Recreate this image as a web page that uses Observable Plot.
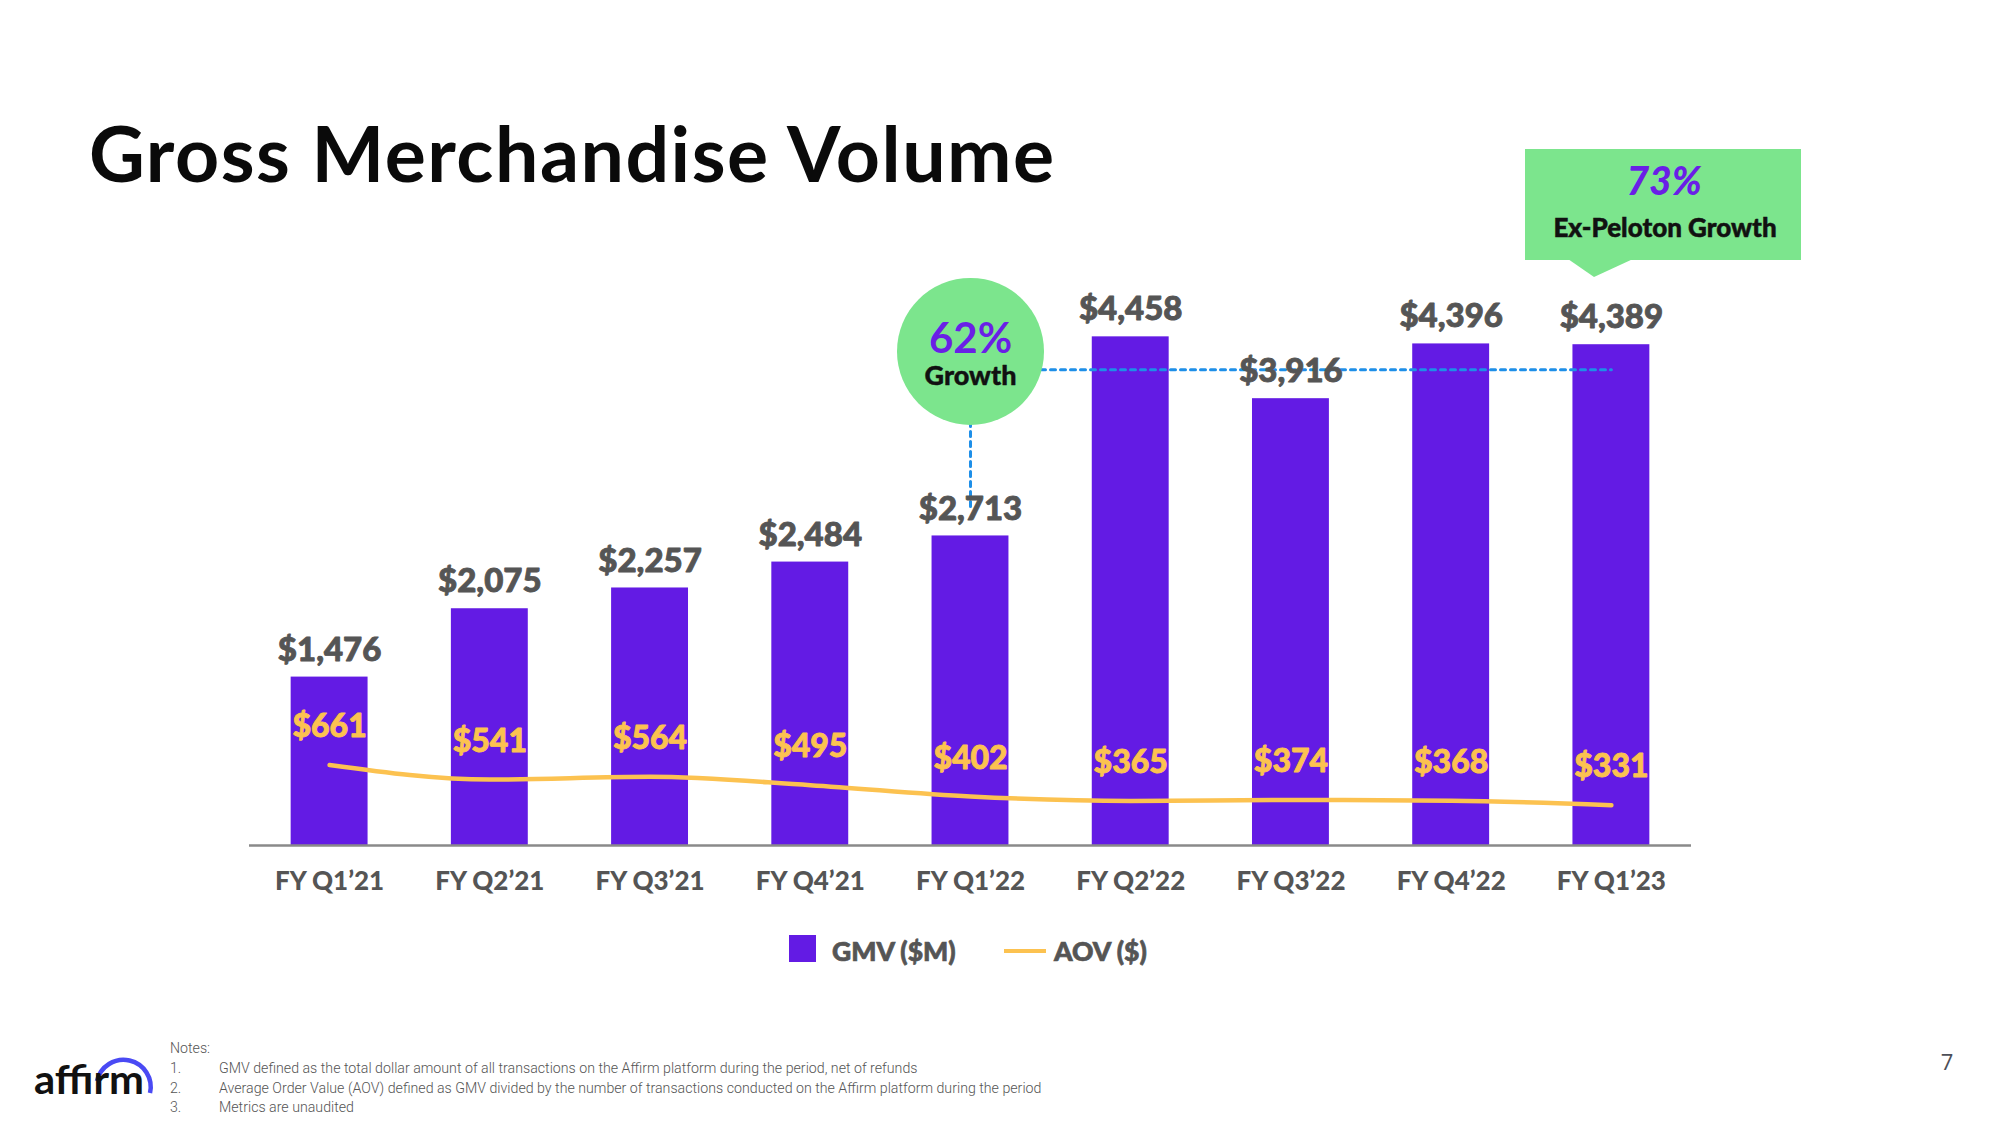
<!DOCTYPE html>
<html>
<head>
<meta charset="utf-8">
<script src="https://cdn.jsdelivr.net/npm/d3@7"></script>
<script src="https://cdn.jsdelivr.net/npm/@observablehq/plot@0.6"></script>
<style>
  html, body { margin: 0; padding: 0; background: #ffffff; overflow: hidden; }
  #page { position: relative; width: 2000px; height: 1125px; background: #fff; }
  #chart { position: absolute; left: 0; top: 0; }
  #overlay { position: absolute; left: 0; top: 0; pointer-events: none; }
  #callout { position: absolute; left: 1525px; top: 149px; width: 276px; height: 111px; background: #7ce58d; }
  #callout-tip { position: absolute; left: 1568px; top: 259px; width: 65px; height: 18px; background: #7ce58d;
    clip-path: polygon(0 0, 100% 0, 40% 100%); }
</style>
</head>
<body>
<div id="page">
  <div id="chart"></div>
  <div id="callout"></div>
  <div id="callout-tip"></div>
  <svg id="overlay" width="2000" height="1125" xmlns="http://www.w3.org/2000/svg">
    <text x="89" y="182" font-family="Lato" font-weight="700" font-size="77" letter-spacing="1.5" fill="#0a0a0a">Gross Merchandise Volume</text>

    <text x="1664" y="195" text-anchor="middle" font-family="Lato" font-weight="900" font-style="italic" font-size="39" fill="#6a1fe6">73%</text>
    <text x="1665" y="237" text-anchor="middle" font-family="Lato" font-weight="900" font-size="26" fill="#111" stroke="#111" stroke-width="0.5">Ex-Peloton Growth</text>

    <rect x="789" y="935" width="27" height="27" fill="#631be4"></rect>
    <text x="832" y="961" font-family="Lato" font-weight="900" font-size="26.5" fill="#555" stroke="#555" stroke-width="0.7">GMV ($M)</text>
    <line x1="1004" x2="1046" y1="951" y2="951" stroke="#fcc250" stroke-width="4"></line>
    <text x="1054" y="961" font-family="Lato" font-weight="900" font-size="26.5" fill="#555" stroke="#555" stroke-width="0.7">AOV ($)</text>

    <path d="M97,1081 A27,27 0 1 1 150,1093" fill="none" stroke="#4a4af4" stroke-width="4.5"></path>
    <text x="34" y="1094" font-family="Lato" font-weight="700" font-size="40" fill="#111" textLength="110" lengthAdjust="spacingAndGlyphs">affirm</text>

    <g font-family="Roboto" font-weight="300" font-size="14.2" fill="#555">
      <text x="170" y="1053">Notes:</text>
      <text x="170" y="1073">1.</text>
      <text x="219" y="1073">GMV defined as the total dollar amount of all transactions on the Affirm platform during the period, net of refunds</text>
      <text x="170" y="1093">2.</text>
      <text x="219" y="1093">Average Order Value (AOV) defined as GMV divided by the number of transactions conducted on the Affirm platform during the period</text>
      <text x="170" y="1112">3.</text>
      <text x="219" y="1112">Metrics are unaudited</text>
    </g>

    <text x="1947" y="1070" text-anchor="middle" font-family="Open Sans" font-size="22" fill="#4d4f58">7</text>
  </svg>
</div>
<script>
// ---- data ----
const quarters = ["FY Q1’21", "FY Q2’21", "FY Q3’21", "FY Q4’21", "FY Q1’22", "FY Q2’22", "FY Q3’22", "FY Q4’22", "FY Q1’23"];
const gmv = [1476, 2075, 2257, 2484, 2713, 4458, 3916, 4396, 4389];   // $M
const aov = [661, 541, 564, 495, 402, 365, 374, 368, 331];             // $
const gmvAxisMax = 5000;   // primary axis (GMV, $M)
const aovAxisMax = 4680;   // secondary axis (AOV, $)

// growth annotation (in GMV axis units)
const bubbleQuarter = "FY Q1’22";
const bubbleLevel = 4330;
const bubblePct = "62%";
const bubbleText = "Growth";
const refLineEnd = "FY Q1’23";
const refLineLevel = 4170;
const refDropLevel = 2955;

// ---- colors ----
const purple = "#631be4";
const yellow = "#fcc250";
const green = "#7ce58d";
const blue = "#1e8fe8";
const gray = "#555555";

const rows = quarters.map((q, i) => ({q, gmv: gmv[i], aov: aov[i]}));
const aovToGmv = gmvAxisMax / aovAxisMax;
const fmt = d3.format(",");

const hLine = [{q: bubbleQuarter, v: refLineLevel}, {q: refLineEnd, v: refLineLevel}];
const vLine = [{q: bubbleQuarter, v: bubbleLevel}, {q: bubbleQuarter, v: refDropLevel}];
const bubble = [{q: bubbleQuarter, v: bubbleLevel}];

const chart = Plot.plot({
  width: 2000,
  height: 1125,
  marginLeft: 249,
  marginRight: 309,
  marginTop: 274.5,
  marginBottom: 280,
  style: {fontFamily: "Lato", fontSize: "26px", fontWeight: 900, color: gray, background: "transparent", overflow: "visible"},
  x: {domain: quarters, paddingInner: 0.52, paddingOuter: 0.26, round: false, axis: null},
  y: {domain: [0, gmvAxisMax], axis: null},
  marks: [
    Plot.barY(rows, {x: "q", y: "gmv", fill: purple}),
    Plot.ruleY([0], {stroke: "#8a8a8a", strokeWidth: 2.5}),
    Plot.axisX({tickSize: 0, tickPadding: 26, label: null, fill: gray, stroke: gray, strokeWidth: 0.6}),
    Plot.lineY(rows, {x: "q", y: d => d.aov * aovToGmv, stroke: yellow, strokeWidth: 4.5, curve: "monotone-x"}),
    Plot.line(hLine, {x: "q", y: "v", stroke: blue, strokeWidth: 3, strokeDasharray: "5,5"}),
    Plot.line(vLine, {x: "q", y: "v", stroke: blue, strokeWidth: 3, strokeDasharray: "5,5"}),
    Plot.dot(bubble, {x: "q", y: "v", r: 73.5, fill: green, stroke: null}),
    Plot.text(bubble, {x: "q", y: "v", text: () => bubblePct, fontSize: 42, fontWeight: 700, fill: "#6a1fe6", lineAnchor: "middle", dy: -12}),
    Plot.text(bubble, {x: "q", y: "v", text: () => bubbleText, fontSize: 27, fontWeight: 900, fill: "#111", stroke: "#111", strokeWidth: 0.4, lineAnchor: "middle", dy: 25}),
    Plot.text(rows, {x: "q", y: "gmv", text: d => "$" + fmt(d.gmv), fontSize: 33, fontWeight: 900, fill: gray, stroke: gray, strokeWidth: 0.9, lineAnchor: "middle", dy: -27}),
    Plot.text(rows, {x: "q", y: d => d.aov * aovToGmv, text: d => "$" + fmt(d.aov), fontSize: 32, fontWeight: 900, fill: yellow, stroke: yellow, strokeWidth: 0.9, lineAnchor: "middle", dy: -38})
  ]
});
document.getElementById("chart").appendChild(chart);
</script>
</body>
</html>
